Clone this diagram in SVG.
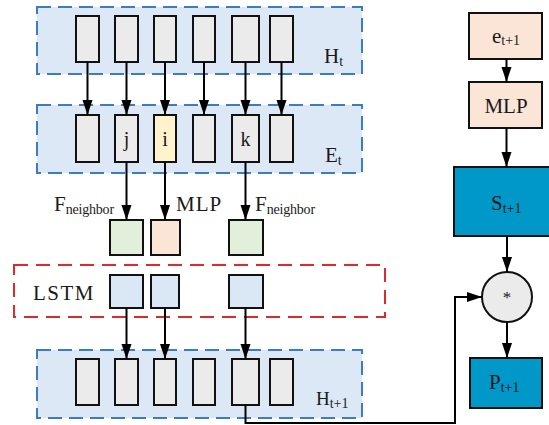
<svg xmlns="http://www.w3.org/2000/svg" width="549" height="425" viewBox="0 0 549 425">
<defs>
<marker id="ah" markerWidth="15" markerHeight="11" refX="15" refY="5.5" orient="auto" markerUnits="userSpaceOnUse" viewBox="0 0 15 11">
<path d="M0,0.5 L15,5.5 L0,10.5 z" fill="#000"/>
</marker>
</defs>
<style>
.grp{fill:#dce8f5;stroke:#3b7dc0;stroke-width:2;stroke-dasharray:14 7}
.red{fill:none;stroke:#e0292b;stroke-width:2;stroke-dasharray:14 8}
.cell{fill:#ebebeb;stroke:#111;stroke-width:2}
.yel{fill:#fff2cc;stroke:#111;stroke-width:2}
.grn{fill:#e2efda;stroke:#111;stroke-width:2}
.pch{fill:#fbe5d6;stroke:#111;stroke-width:2}
.lb{fill:#dae7f5;stroke:#111;stroke-width:2}
.dk{fill:#0097c9;stroke:#111;stroke-width:2}
.cir{fill:#ebebeb;stroke:#111;stroke-width:2}
.t{font-family:"Liberation Serif","Times New Roman",serif;fill:#1a1a1a;font-size:21px}
.s{font-size:14px}
.a{stroke:#000;stroke-width:2;fill:none;marker-end:url(#ah)}
</style>

<g id="Ht">
<rect class="grp" x="37" y="7" width="325" height="67"/>
<rect class="cell" x="76" y="16" width="23" height="46"/>
<rect class="cell" x="115" y="16" width="23" height="46"/>
<rect class="cell" x="154" y="16" width="22" height="46"/>
<rect class="cell" x="193" y="16" width="22" height="46"/>
<rect class="cell" x="232" y="16" width="27" height="46"/>
<rect class="cell" x="270" y="16" width="23" height="46"/>
<text class="t" x="324" y="63">H<tspan class="s" dy="3">t</tspan></text>
</g>

<g id="Et">
<rect class="grp" x="37" y="105" width="325" height="68"/>
<rect class="cell" x="76" y="115" width="23" height="47"/>
<rect class="cell" x="115" y="115" width="23" height="47"/>
<rect class="yel" x="154" y="115" width="22" height="47"/>
<rect class="cell" x="193" y="115" width="22" height="47"/>
<rect class="cell" x="232" y="115" width="27" height="47"/>
<rect class="cell" x="270" y="115" width="23" height="47"/>
<text class="t" x="126.5" y="146" text-anchor="middle" style="font-size:20px">j</text>
<text class="t" x="165" y="146" text-anchor="middle" style="font-size:20px">i</text>
<text class="t" x="245.5" y="146" text-anchor="middle" style="font-size:20px">k</text>
<text class="t" x="325" y="162">E<tspan class="s" dy="3">t</tspan></text>
</g>

<g id="labels">
<text class="t" x="54" y="211">F<tspan class="s" dy="3" letter-spacing="-0.2">neighbor</tspan></text>
<text class="t" x="176" y="211" letter-spacing="1">MLP</text>
<text class="t" x="255" y="211">F<tspan class="s" dy="3" letter-spacing="-0.2">neighbor</tspan></text>
</g>

<g id="agg">
<rect class="grn" x="110" y="220" width="33" height="35"/>
<rect class="pch" x="151" y="220" width="29" height="35"/>
<rect class="grn" x="229" y="220" width="34" height="35"/>
</g>

<g id="LSTM">
<rect class="red" x="14" y="265" width="371" height="52"/>
<text class="t" x="33" y="300" letter-spacing="1.5">LSTM</text>
<rect class="lb" x="110" y="275" width="33" height="33"/>
<rect class="lb" x="151" y="275" width="28" height="33"/>
<rect class="lb" x="229" y="275" width="34" height="33"/>
</g>

<g id="Ht1">
<rect class="grp" x="37" y="350" width="325" height="68"/>
<rect class="cell" x="76" y="359" width="23" height="46"/>
<rect class="cell" x="115" y="359" width="23" height="46"/>
<rect class="cell" x="154" y="359" width="22" height="46"/>
<rect class="cell" x="193" y="359" width="22" height="46"/>
<rect class="cell" x="232" y="359" width="27" height="46"/>
<rect class="cell" x="270" y="359" width="23" height="46"/>
<text class="t" x="316" y="405" style="font-size:19px">H<tspan class="s" dy="3">t+1</tspan></text>
</g>

<g id="e">
<rect class="pch" x="469" y="13" width="73" height="46"/>
<text class="t" x="492" y="43">e<tspan class="s" dy="2">t+1</tspan></text>
</g>
<g id="MLP2">
<rect class="pch" x="469" y="82" width="73" height="46"/>
<text class="t" x="506" y="113" text-anchor="middle">MLP</text>
</g>
<g id="S">
<rect class="dk" x="454" y="167" width="100" height="69"/>
<text class="t" x="491" y="210">S<tspan class="s" dy="3">t+1</tspan></text>
</g>
<g id="mul">
<circle class="cir" cx="507" cy="297" r="25"/>
<text class="t" x="507" y="303" text-anchor="middle" style="font-size:17px">*</text>
</g>
<g id="P">
<rect class="dk" x="470" y="358" width="72" height="50"/>
<text class="t" x="489" y="389">P<tspan class="s" dy="3">t+1</tspan></text>
</g>

<g id="connectors">
<line class="a" x1="87.5" y1="62" x2="87.5" y2="115"/>
<line class="a" x1="126.5" y1="62" x2="126.5" y2="115"/>
<line class="a" x1="165" y1="62" x2="165" y2="115"/>
<line class="a" x1="204" y1="62" x2="204" y2="115"/>
<line class="a" x1="245.5" y1="62" x2="245.5" y2="115"/>
<line class="a" x1="281.5" y1="62" x2="281.5" y2="115"/>
<line class="a" x1="126.5" y1="162" x2="126.5" y2="220"/>
<line class="a" x1="165" y1="162" x2="165" y2="220"/>
<line class="a" x1="245.5" y1="162" x2="245.5" y2="220"/>
<line class="a" x1="126.5" y1="308" x2="126.5" y2="359"/>
<line class="a" x1="165" y1="308" x2="165" y2="359"/>
<line class="a" x1="245.5" y1="308" x2="245.5" y2="359"/>
<polyline class="a" points="245.5,405 245.5,423 455,423 455,297 482,297"/>
<line class="a" x1="506.5" y1="59" x2="506.5" y2="82"/>
<line class="a" x1="506.5" y1="128" x2="506.5" y2="167"/>
<line class="a" x1="507" y1="236" x2="507" y2="272"/>
<line class="a" x1="507" y1="322" x2="507" y2="358"/>
</g>
</svg>
